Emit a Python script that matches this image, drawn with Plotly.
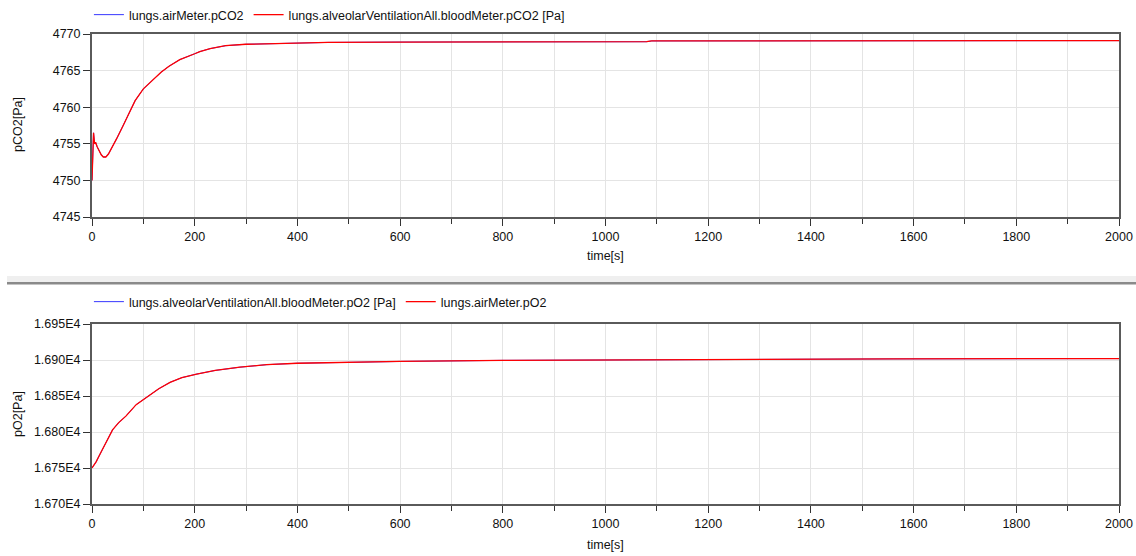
import plotly.graph_objects as go

# ---- data ----
t_co2 = [0, 1, 2, 3, 5, 7, 10, 14, 18, 22, 27, 32, 40, 48, 60, 71, 84, 100, 119, 135,
         150, 171, 200, 210, 230, 260, 300, 350, 400, 460, 600, 800, 1000, 1080, 1090, 1400, 1700, 2000]
pco2 = [4750.0, 4752.5, 4755.5, 4756.5, 4755.0, 4755.2, 4754.6, 4754.0, 4753.5, 4753.2, 4753.2, 4753.6,
        4754.6, 4755.7, 4757.4, 4759.1, 4760.9, 4762.5, 4763.7, 4764.8,
        4765.6, 4766.5, 4767.3, 4767.6, 4768.0, 4768.4, 4768.6, 4768.7, 4768.8, 4768.85, 4768.9, 4768.9,
        4768.92, 4768.95, 4769.05, 4769.07, 4769.08, 4769.1]

t_o2 = [0, 4, 8, 14, 21, 30, 40, 52, 66, 86, 100, 108, 130, 152, 175, 204, 240, 288, 340, 400,
        500, 600, 800, 1100, 1560, 2000]
po2 = [16750.0, 16753.5, 16758.5, 16767.0, 16777.0, 16790.0, 16803.0, 16813.0, 16822.0, 16838.0, 16845.0,
       16850.0, 16860.0, 16869.0, 16875.5, 16880.5, 16885.5, 16890.0, 16893.5, 16895.5,
       16897.0, 16898.0, 16899.5, 16900.5, 16901.5, 16902.0]

x_ticks = [0, 200, 400, 600, 800, 1000, 1200, 1400, 1600, 1800, 2000]
co2_ticks = [4745, 4750, 4755, 4760, 4765, 4770]
o2_ticks = [16700, 16750, 16800, 16850, 16900, 16950]
o2_ticktext = ["1.670E4", "1.675E4", "1.680E4", "1.685E4", "1.690E4", "1.695E4"]

names_top = ["lungs.airMeter.pCO2", "lungs.alveolarVentilationAll.bloodMeter.pCO2 [Pa]"]
names_bot = ["lungs.alveolarVentilationAll.bloodMeter.pO2 [Pa]", "lungs.airMeter.pO2"]

# ---- figure ----
W, H = 1136, 556
L, R = 92, 1119
def py(px):
    return 1 - px / H

FONT = "Liberation Sans, Arial, sans-serif"
FS = 12.5
AX = "#5a5a5a"
GRID = "#e4e4e4"
TXT = "#111"

fig = go.Figure()
fig.add_trace(go.Scatter(x=t_co2, y=pco2, mode="lines", name=names_top[0],
                         line=dict(color="#2020ff", width=0.9), xaxis="x", yaxis="y", legend="legend"))
fig.add_trace(go.Scatter(x=t_co2, y=pco2, mode="lines", name=names_top[1],
                         line=dict(color="#ff0000", width=1.3), xaxis="x", yaxis="y", legend="legend"))
fig.add_trace(go.Scatter(x=t_o2, y=po2, mode="lines", name=names_bot[0],
                         line=dict(color="#2020ff", width=0.9), xaxis="x2", yaxis="y2", legend="legend2"))
fig.add_trace(go.Scatter(x=t_o2, y=po2, mode="lines", name=names_bot[1],
                         line=dict(color="#ff0000", width=1.3), xaxis="x2", yaxis="y2", legend="legend2"))

common_x = dict(range=[0, 2000], tickvals=x_ticks, ticks="outside", ticklen=7, tickwidth=1,
                tickcolor="#333", showline=True, linecolor=AX, linewidth=2, mirror=True,
                showgrid=True, gridcolor=GRID, gridwidth=1, zeroline=False, automargin=False,
                minor=dict(dtick=100, tick0=0, ticks="outside", ticklen=5, tickcolor="#333",
                           showgrid=True, gridcolor=GRID, gridwidth=1),
                tickfont=dict(family=FONT, size=FS, color=TXT))
common_y = dict(ticks="outside", ticklen=7, tickwidth=1, tickcolor="#333",
                showline=True, linecolor=AX, linewidth=2, mirror=True, automargin=False,
                showgrid=True, gridcolor=GRID, gridwidth=1, zeroline=False,
                tickfont=dict(family=FONT, size=FS, color=TXT))

fig.update_layout(
    width=W, height=H,
    margin=dict(l=L, r=W - R, t=0, b=0, autoexpand=False),
    paper_bgcolor="white", plot_bgcolor="white",
    font=dict(family=FONT, size=FS, color=TXT),
    xaxis=dict(domain=[0, 1], anchor="y", **common_x),
    yaxis=dict(domain=[py(217), py(34)], anchor="x", range=[4745, 4770], tickvals=co2_ticks, **common_y),
    xaxis2=dict(domain=[0, 1], anchor="y2", **common_x),
    yaxis2=dict(domain=[py(504), py(324)], anchor="x2", range=[16700, 16950], tickvals=o2_ticks,
                ticktext=o2_ticktext, **common_y),
    legend=dict(orientation="h", x=-0.003, xanchor="left", y=py(15), yanchor="middle",
                font=dict(family=FONT, size=FS, color=TXT), bgcolor="rgba(0,0,0,0)",
                borderwidth=0, itemwidth=30),
    legend2=dict(orientation="h", x=-0.003, xanchor="left", y=py(302), yanchor="middle",
                 font=dict(family=FONT, size=FS, color=TXT), bgcolor="rgba(0,0,0,0)",
                 borderwidth=0, itemwidth=30),
    showlegend=True,
)

def xp(px):
    return (px - L) / (R - L)

# separator between the two panels
fig.add_shape(type="rect", xref="paper", yref="paper", x0=xp(7), x1=xp(1136), y0=py(282), y1=py(276),
              fillcolor="#efefef", line=dict(width=0), layer="below")
fig.add_shape(type="rect", xref="paper", yref="paper", x0=xp(7), x1=xp(1136), y0=py(284.5), y1=py(282),
              fillcolor="#8a8a8a", line=dict(width=0), layer="below")

# axis titles
for txt, y in [("time[s]", 256), ("time[s]", 545)]:
    fig.add_annotation(text=txt, xref="paper", yref="paper", x=0.5, y=py(y), showarrow=False,
                       xanchor="center", yanchor="middle", font=dict(family=FONT, size=FS, color=TXT))
for txt, y in [("pCO2[Pa]", 125), ("pO2[Pa]", 414)]:
    fig.add_annotation(text=txt, xref="paper", yref="paper", x=xp(18), y=py(y), showarrow=False,
                       textangle=-90, xanchor="center", yanchor="middle",
                       font=dict(family=FONT, size=FS, color=TXT))

fig.write_html("out.html")
